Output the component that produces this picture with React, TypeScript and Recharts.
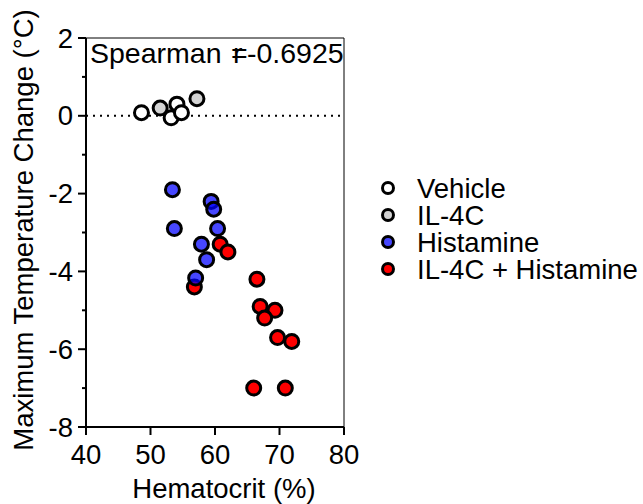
import {
  ScatterChart,
  Scatter,
  XAxis,
  YAxis,
  ReferenceLine,
  Legend,
} from "recharts";

const FONT = "'Liberation Sans', Arial, sans-serif";

// hematocrit (%) and max temperature change (°C)
const vehicleX = [48.6, 53.2, 54.1, 54.8];
const vehicleY = [0.08, -0.05, 0.3, 0.08];
const il4cX = [51.5, 57.2];
const il4cY = [0.2, 0.44];
const histX = [53.4, 59.4, 59.8, 53.7, 60.4, 57.9, 58.7, 57.0];
const histY = [-1.9, -2.2, -2.4, -2.9, -2.9, -3.3, -3.7, -4.17];
const comboX = [60.8, 62.0, 56.8, 66.5, 67.0, 69.3, 67.7, 69.7, 71.9, 66.0, 70.9];
const comboY = [-3.3, -3.5, -4.4, -4.2, -4.9, -5.0, -5.2, -5.7, -5.8, -7.0, -7.0];

const xTicks = [40, 50, 60, 70, 80];
const yTicks = [-8, -7, -6, -5, -4, -3, -2, -1, 0, 1, 2];

const toPoints = (xs: number[], ys: number[]) => xs.map((x, i) => ({ x, y: ys[i] }));

const series = [
  { name: "Vehicle", data: toPoints(vehicleX, vehicleY), fill: "#ffffff", opacity: 1 },
  { name: "IL-4C", data: toPoints(il4cX, il4cY), fill: "#d3d3d3", opacity: 1 },
  { name: "Histamine", data: toPoints(histX, histY), fill: "#0000ff", opacity: 0.72 },
  { name: "IL-4C + Histamine", data: toPoints(comboX, comboY), fill: "#ff0000", opacity: 1 },
];

const dot = (fill: string, opacity: number) => (props: any) => (
  <circle
    cx={props.cx}
    cy={props.cy}
    r={7}
    fill={fill}
    fillOpacity={opacity}
    stroke="#000"
    strokeWidth={3}
  />
);

// y ticks: every integer, labels only on even ones, short minor ticks
const YTick = (props: any) => {
  const { x, y, payload } = props;
  const v = payload.value as number;
  const major = v % 2 === 0;
  const axisX = x + 13;
  return (
    <g>
      <line x1={axisX - (major ? 8 : 4)} x2={axisX} y1={y} y2={y} stroke="#000" strokeWidth={2} />
      {major && (
        <text
          x={x}
          y={y}
          textAnchor="end"
          dominantBaseline="central"
          fontSize={27.5}
          fontFamily={FONT}
          fill="#000"
        >
          {v}
        </text>
      )}
    </g>
  );
};

const renderLegend = () => (
  <svg width={265} height={120}>
    {series.map((s, i) => (
      <g key={s.name}>
        <circle
          cx={10}
          cy={18 + i * 27}
          r={5.5}
          fill={s.fill}
          fillOpacity={s.opacity}
          stroke="#000"
          strokeWidth={3}
        />
        <text
          x={39}
          y={18 + i * 27}
          dominantBaseline="central"
          fontSize={27.5}
          fontFamily={FONT}
          fill="#000"
        >
          {s.name}
        </text>
      </g>
    ))}
  </svg>
);

export default function App() {
  // draw order: combo first, vehicle last (on top)
  const drawOrder = [...series].reverse();

  return (
    <div style={{ position: "absolute", left: 0, top: 0, width: 643, height: 504, background: "#fff" }}>
      <ScatterChart
        width={643}
        height={504}
        margin={{ top: 38, right: 299, bottom: 27, left: 26 }}
      >
        <XAxis
          type="number"
          dataKey="x"
          domain={[40, 80]}
          ticks={xTicks}
          interval={0}
          height={50}
          tickSize={8}
          tickMargin={9}
          axisLine={{ stroke: "#000", strokeWidth: 2 }}
          tickLine={{ stroke: "#000", strokeWidth: 2 }}
          tick={{ fill: "#000", fontSize: 27.5, fontFamily: FONT }}
          label={() => (
            <text x={224} y={498} textAnchor="middle" fontSize={27.5} fontFamily={FONT} fill="#000">
              Hematocrit (%)
            </text>
          )}
        />
        <YAxis
          type="number"
          dataKey="y"
          domain={[-8, 2]}
          ticks={yTicks}
          interval={0}
          width={60}
          tickSize={8}
          tickMargin={5}
          axisLine={{ stroke: "#000", strokeWidth: 2 }}
          tickLine={false}
          tick={<YTick />}
          label={() => (
            <text
              x={23}
              y={230}
              transform="rotate(-90 23 230)"
              textAnchor="middle"
              dominantBaseline="central"
              fontSize={27.5}
              fontFamily={FONT}
              fill="#000"
            >
              Maximum Temperature Change (°C)
            </text>
          )}
        />
        <ReferenceLine y={0} stroke="#000" strokeWidth={2} strokeDasharray="2 5" />
        <ReferenceLine x={80} stroke="#000" strokeWidth={1} />
        <ReferenceLine
          y={2}
          stroke="#000"
          strokeWidth={1}
          label={() => (
            <text x={90} y={63} fontSize={28.5} fontFamily={FONT} fill="#000">
              Spearman
              <tspan x={233}>r</tspan>
              <tspan x={231}>=</tspan>
              <tspan x={247}>-0.6925</tspan>
            </text>
          )}
        />
        {drawOrder.map((s) => (
          <Scatter
            key={s.name}
            name={s.name}
            data={s.data}
            isAnimationActive={false}
            shape={dot(s.fill, s.opacity)}
          />
        ))}
        <Legend
          layout="vertical"
          align="center"
          verticalAlign="middle"
          content={renderLegend}
          wrapperStyle={{ left: 378, top: 170, width: 265, height: 120 }}
        />
      </ScatterChart>
    </div>
  );
}
